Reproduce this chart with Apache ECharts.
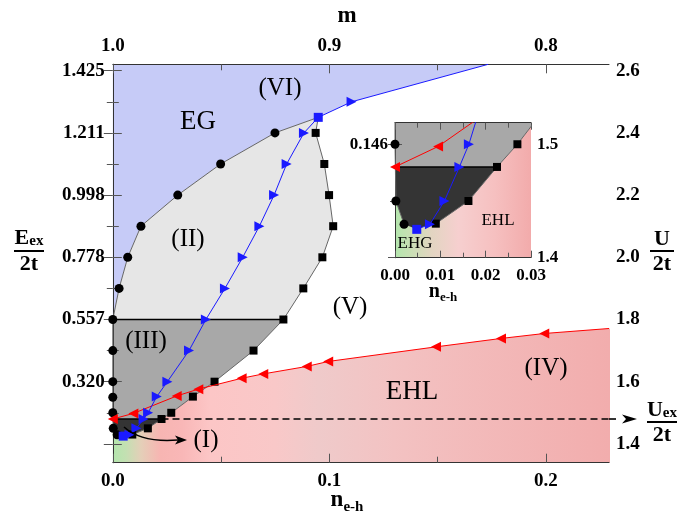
<!DOCTYPE html>
<html><head><meta charset="utf-8">
<script src="https://cdn.jsdelivr.net/npm/echarts@6/dist/echarts.min.js"></script>
<style>html,body{margin:0;padding:0;background:#fff}#c{width:683px;height:523px}</style>
</head><body><div id="c"></div>
<script>
// ---------- data ----------
const X_MAX = 0.2292, Y_MIN = 1.3395, Y_MAX = 2.6206;
const INSET_X_MAX = 0.03, INSET_Y_MIN = 1.4, INSET_Y_MAX = 1.519;
const U_EX = 1.48;

// black circles (n_e-h, U/2t)
const circles = [[0.002,1.4295],[0.0002,1.45],[0,1.5],[0,1.55],[0,1.6],[0,1.7],[0,1.8],
  [0.0029,1.9],[0.0069,2.0],[0.013,2.1],[0.030,2.2],[0.0498,2.3],[0.0749,2.4]];
// black squares
const squares = [[0.009,1.43],[0.0162,1.45],[0.0225,1.48],[0.027,1.5],[0.037,1.552],[0.047,1.6],
  [0.065,1.7],[0.0788,1.8],[0.088,1.9],[0.0968,2.0],[0.1018,2.1],[0.0999,2.2],[0.0977,2.3],[0.0937,2.4]];
// blue squares
const blueSquares = [[0.0048,1.425],[0.0949,2.45]];
// blue path (triangles)
const bluePath = [[0.0048,1.425],[0.0077,1.4295],[0.0109,1.45],[0.0142,1.48],[0.0163,1.50],[0.0203,1.552],
  [0.0252,1.60],[0.0352,1.70],[0.0430,1.80],[0.0518,1.90],[0.0600,2.00],[0.0677,2.10],[0.0745,2.20],
  [0.0803,2.30],[0.0883,2.40],[0.0949,2.45],[0.1103,2.50],[0.1734,2.6206]];
// red path (triangles)
const redPath = [[0,1.48],[0.0095,1.498],[0.0295,1.554],[0.0395,1.576],[0.0595,1.611],[0.0695,1.625],
  [0.0896,1.649],[0.0995,1.665],[0.1493,1.712],[0.1793,1.739],[0.1993,1.755],[0.2292,1.771]];

// ticks
const bottomTicks = [0, 0.1, 0.2];
const bottomMinor = [0.05, 0.15];
const rightTicks = [1.4, 1.6, 1.8, 2.0, 2.2, 2.4, 2.6];
const minorU = [1.5, 1.7, 1.9, 2.1, 2.3, 2.5];
const leftTickU = [1.6, 1.8, 2.0, 2.2, 2.4, 2.6];
const leftTickLabels = ['0.320', '0.557', '0.778', '0.998', '1.211', '1.425'];
const insetXTicks = [0, 0.01, 0.02, 0.03];
const insetXMinor = [0.005, 0.015, 0.025];
const insetRightTicks = [1.4, 1.5];
const insetLeftTickU = [1.5];
const insetLeftLabels = ['0.146'];

// ---------- derived geometry ----------
const same = (a, b) => Math.abs(a[0]-b[0]) < 1e-9 && Math.abs(a[1]-b[1]) < 1e-9;
const atU = (arr, u) => arr.find(p => Math.abs(p[1]-u) < 1e-6);
const sq18 = atU(squares, 1.8), sqEx = atU(squares, U_EX);
const bsTop = blueSquares[1], bsBot = blueSquares[0];
const upperCircles = circles.filter(p => p[1] >= 1.8 - 1e-9);

function segInt(a, b, c, d) {
  const den = (b[0]-a[0])*(d[1]-c[1]) - (b[1]-a[1])*(d[0]-c[0]);
  if (Math.abs(den) < 1e-14) return null;
  const t = ((c[0]-a[0])*(d[1]-c[1]) - (c[1]-a[1])*(d[0]-c[0])) / den;
  const u = ((c[0]-a[0])*(b[1]-a[1]) - (c[1]-a[1])*(b[0]-a[0])) / den;
  if (t < 0 || t > 1 || u < 0 || u > 1) return null;
  return {p: [a[0]+t*(b[0]-a[0]), a[1]+t*(b[1]-a[1])], rj: 0};
}
let cross = null, crossSq = 0, crossRed = 0;
for (let i = 0; i < squares.length-1 && !cross; i++) {
  if (squares[i][1] < U_EX) continue;
  for (let j = 0; j < redPath.length-1; j++) {
    const r = segInt(squares[i], squares[i+1], redPath[j], redPath[j+1]);
    if (r) { cross = r.p; crossSq = i; crossRed = j; break; }
  }
}
const blueTopIdx = bluePath.findIndex(p => same(p, bsTop));
const polyBlue = [[0, 1.8], ...upperCircles, ...bluePath.slice(blueTopIdx), [bluePath[bluePath.length-1][0], Y_MAX+0.05], [0, Y_MAX+0.05]];
const polyII = [...upperCircles, bsTop, ...squares.filter(p => p[1] >= 1.8-1e-9).reverse()];
const polyIII = [[0, 1.8], ...squares.filter(p => p[1] <= 1.8+1e-9 && p[1] >= U_EX-1e-9).reverse(), [0, U_EX]];
const lowCircles = circles.filter(p => p[1] < 1.5 - 1e-9); // bottom of region I
const lowSquares = squares.filter(p => p[1] < U_EX - 1e-9);
const lowBlue = bluePath.filter(p => p[1] < 1.44 && !same(p, bsBot));
const polyI = [[0, U_EX], sqEx, ...lowSquares.slice().reverse(), ...lowBlue.slice().reverse(), bsBot, ...lowCircles, [0, U_EX]];
const polyPink = [[0, Y_MIN-0.05], [0, lowCircles[lowCircles.length-1][1]], ...lowCircles.slice().reverse(), bsBot, ...lowBlue,
  ...squares.slice(0, crossSq+1), cross, ...redPath.slice(crossRed+1), [X_MAX+0.01, redPath[redPath.length-1][1]], [X_MAX+0.01, Y_MIN-0.05]];

// ---------- chart ----------
const FONT = 'Liberation Serif';
const chart = echarts.init(document.getElementById('c'));

const mainStops = [[0,'#b3e6ad'],[0.006,'#c3e0b2'],[0.013,'#e4cfb8'],[0.022,'#f7b5b2'],[0.032,'#f9b7b7'],
  [0.045,'#fcc6c6'],[0.075,'#f9c8c8'],[0.095,'#efcaca'],[0.13,'#f3c2c2'],[0.2292,'#f2adad']];
const insetStops = [[0,'#b3e6ad'],[0.003,'#c6e0b3'],[0.008,'#e2d5c1'],[0.014,'#f6cfcf'],[0.022,'#f6c0c0'],[0.03,'#f2abab']];

function gradFill(stops, xmax) {
  return api => {
    const a = api.coord([0, 1.5]), b = api.coord([xmax, 1.5]);
    return new echarts.graphic.LinearGradient(a[0], 0, b[0], 0,
      stops.map(s => ({offset: s[0]/xmax, color: s[1]})), true);
  };
}
function poly(points, fill, xi, yi) {
  return {type: 'custom', xAxisIndex: xi, yAxisIndex: yi, clip: true, z: 1, silent: true,
    data: [[points[0][0], points[0][1]]],
    renderItem: (params, api) => ({type: 'polygon',
      shape: {points: points.map(p => api.coord(p))},
      style: {fill: typeof fill === 'function' ? fill(api) : fill}})};
}
function lineS(data, color, width, xi, yi, extra) {
  return Object.assign({type: 'line', xAxisIndex: xi, yAxisIndex: yi, data: data, z: 10, silent: true,
    lineStyle: {color: color, width: width}, itemStyle: {color: color}, showSymbol: false, symbol: 'none',
    animation: false}, extra || {});
}
function markerData(path, fn) {
  return path.map((p, i) => Object.assign({value: p}, fn(p, i)));
}

const labelFont = {fontFamily: FONT, fontWeight: 'bold', color: '#000'};
function xAx(grid, pos, ticks, labels, fmt, len, showLine, fs, xmax) {
  return {type: 'value', gridIndex: grid, position: pos, min: 0, max: xmax, z: 5,
    axisLine: {show: showLine, lineStyle: {color: '#333', width: 1}},
    axisTick: {show: true, inside: true, length: len, customValues: ticks, lineStyle: {color: '#555'}},
    axisLabel: labels ? Object.assign({show: true, customValues: labels, formatter: fmt, fontSize: fs, margin: 9}, labelFont) : {show: false},
    splitLine: {show: false}};
}
function yAx(grid, pos, ticks, labels, fmt, len, showLine, fs, ymin, ymax, margin) {
  return {type: 'value', gridIndex: grid, position: pos, min: ymin, max: ymax, z: 5,
    axisLine: {show: showLine, lineStyle: {color: '#333', width: 1}},
    axisTick: {show: true, inside: true, length: len, customValues: ticks, lineStyle: {color: '#555'}},
    axisLabel: labels ? Object.assign({show: true, customValues: labels, formatter: fmt, fontSize: fs, margin: margin}, labelFont) : {show: false},
    splitLine: {show: false}};
}
const leftFmt = v => { const i = leftTickU.findIndex(u => Math.abs(u-v) < 1e-6); return i >= 0 ? leftTickLabels[i] : ''; };
const insetLeftFmt = v => { const i = insetLeftTickU.findIndex(u => Math.abs(u-v) < 1e-6); return i >= 0 ? insetLeftLabels[i] : ''; };

const xAxes = [
  xAx(0, 'bottom', bottomTicks, bottomTicks, v => v.toFixed(1), 9, true, 19, X_MAX),
  xAx(0, 'bottom', bottomMinor, null, null, 6, false, 19, X_MAX),
  xAx(0, 'top', bottomTicks, bottomTicks, v => (1 - v).toFixed(1), 9, true, 19, X_MAX),
  xAx(0, 'top', bottomMinor, null, null, 6, false, 19, X_MAX),
  xAx(1, 'bottom', insetXTicks, insetXTicks, v => v.toFixed(2), 7, true, 17, INSET_X_MAX),
  xAx(1, 'bottom', insetXMinor, null, null, 5, false, 17, INSET_X_MAX),
  xAx(1, 'top', insetXTicks, null, null, 7, true, 17, INSET_X_MAX),
  xAx(1, 'top', insetXMinor, null, null, 5, false, 17, INSET_X_MAX)
];
const yAxes = [
  yAx(0, 'left', rightTicks, leftTickU, leftFmt, 9, true, 19, Y_MIN, Y_MAX, 8),
  yAx(0, 'left', minorU, null, null, 6, false, 19, Y_MIN, Y_MAX, 8),
  yAx(0, 'right', rightTicks, rightTicks, v => v.toFixed(1), 9, true, 19, Y_MIN, Y_MAX, 7),
  yAx(0, 'right', minorU, null, null, 6, false, 19, Y_MIN, Y_MAX, 7),
  yAx(1, 'left', insetLeftTickU, insetLeftTickU, insetLeftFmt, 7, true, 17, INSET_Y_MIN, INSET_Y_MAX, 7),
  yAx(1, 'left', [1.45], null, null, 5, false, 17, INSET_Y_MIN, INSET_Y_MAX, 7),
  yAx(1, 'right', insetRightTicks, insetRightTicks, v => v.toFixed(1), 7, true, 17, INSET_Y_MIN, INSET_Y_MAX, 6),
  yAx(1, 'right', [1.45], null, null, 5, false, 17, INSET_Y_MIN, INSET_Y_MAX, 6)
];

function seriesFor(xi, yi, stops, xmax, isMain) {
  const s = [
    poly(polyPink, gradFill(stops, xmax), xi, yi),
    poly(polyBlue, '#c6cbf7', xi, yi),
    poly(polyII, '#e6e6e6', xi, yi),
    poly(polyIII, '#a8a8a8', xi, yi),
    poly(polyI, '#343434', xi, yi)
  ];
  if (isMain) {
    s.push(lineS([[0, 1.8], sq18], '#000', 1.5, xi, yi));
    s.push(lineS([sqEx, [X_MAX, U_EX]], '#000', 1.6, xi, yi, {lineStyle: {color: '#000', width: 1.6, type: [7, 4]}}));
  }
  s.push(lineS([[0, U_EX], sqEx], '#000', 1.5, xi, yi));
  // circle boundary
  s.push(lineS(markerData([...circles, bsTop], (p, i) => ({symbol: i === circles.length ? 'none' : 'circle'})),
    '#666', 1, xi, yi, {showSymbol: true, symbolSize: 9, itemStyle: {color: '#000'}}));
  // square boundary
  s.push(lineS(markerData([...squares, bsTop], (p, i) => ({symbol: i === squares.length ? 'none' : 'rect'})),
    '#666', 1, xi, yi, {showSymbol: true, symbolSize: 8, itemStyle: {color: '#000'}}));
  // red path
  s.push(lineS(markerData(redPath, (p, i) => ({symbol: i === redPath.length-1 ? 'none' : 'triangle'})),
    '#ff0000', 1, xi, yi, {showSymbol: true, symbolSize: 10, symbolRotate: 90, z: 11}));
  // blue path
  s.push(lineS(markerData(bluePath, (p, i) => ({
      symbol: blueSquares.some(b => same(b, p)) ? 'rect' : (i === bluePath.length-1 ? 'none' : 'triangle'),
      symbolRotate: blueSquares.some(b => same(b, p)) ? 0 : -90,
      symbolSize: blueSquares.some(b => same(b, p)) ? 9 : 10})),
    '#1a1aff', 1, xi, yi, {showSymbol: true, z: 12}));
  return s;
}

chart.setOption({
  animation: false,
  backgroundColor: '#fff',
  grid: [
    {left: 112.8, right: 74, top: 64.3, bottom: 60.3, containLabel: false},
    {left: 395, right: 152, top: 122.7, bottom: 265.3, containLabel: false}
  ],
  xAxis: xAxes,
  yAxis: yAxes,
  series: [...seriesFor(0, 0, mainStops, X_MAX, true), ...seriesFor(4, 4, insetStops, INSET_X_MAX, false)]
});

// ---------- annotations ----------
const px = p => chart.convertToPixel({xAxisIndex: 0, yAxisIndex: 0}, p);
const exY = px([0, U_EX])[1];
const frameR = px([X_MAX, 0])[0];
function txt(t, x, y, size, opts) {
  return Object.assign({type: 'text', x: x, y: y, z: 100, style: Object.assign({text: t, fontFamily: FONT, fontSize: size,
    fill: '#000', align: 'center', verticalAlign: 'middle'}, opts || {})}, {});
}
function frac(cx, numMain, numSub, den, yNum, yLine, yDen, halfW) {
  return [
    {type: 'text', x: cx, y: yNum, z: 100, style: {text: '{a|' + numMain + '}' + (numSub ? '{b|' + numSub + '}' : ''),
      align: 'center', verticalAlign: 'middle', rich: {
        a: {fontFamily: FONT, fontWeight: 'bold', fontSize: 22, fill: '#000'},
        b: {fontFamily: FONT, fontWeight: 'bold', fontSize: 15, fill: '#000', padding: [6, 0, 0, 0]}}}},
    {type: 'line', z: 100, shape: {x1: cx - halfW, y1: yLine, x2: cx + halfW, y2: yLine}, style: {stroke: '#000', lineWidth: 2}},
    {type: 'text', x: cx, y: yDen, z: 100, style: {text: den, fontFamily: FONT, fontWeight: 'bold', fontSize: 22,
      fill: '#000', align: 'center', verticalAlign: 'middle'}}
  ];
}
const g = [
  txt('m', 347, 16, 23, {fontWeight: 'bold'}),
  {type: 'text', x: 347, y: 500, z: 100, style: {text: '{a|n}{b|e-h}', align: 'center', verticalAlign: 'middle',
    rich: {a: {fontFamily: FONT, fontWeight: 'bold', fontSize: 23, fill: '#000'},
           b: {fontFamily: FONT, fontWeight: 'bold', fontSize: 15, fill: '#000', padding: [14, 0, 0, 0]}}}},
  {type: 'text', x: 443, y: 292, z: 100, style: {text: '{a|n}{b|e-h}', align: 'center', verticalAlign: 'middle',
    rich: {a: {fontFamily: FONT, fontWeight: 'bold', fontSize: 20, fill: '#000'},
           b: {fontFamily: FONT, fontWeight: 'bold', fontSize: 13, fill: '#000', padding: [12, 0, 0, 0]}}}},
  ...frac(29, 'E', 'ex', '2t', 238, 251, 264, 15),
  ...frac(662, 'U', '', '2t', 239, 251, 264, 12),
  ...frac(662, 'U', 'ex', '2t', 410, 422, 435, 15),
  txt('(VI)', 280, 88, 25), txt('EG', 198, 122, 27), txt('(II)', 188, 239, 25), txt('(III)', 146, 341, 25),
  txt('(V)', 350, 307, 25), txt('EHL', 412, 392, 27), txt('(IV)', 546, 368, 25), txt('(I)', 206, 440, 25),
  txt('EHL', 498, 221, 17), txt('EHG', 415, 244, 17),
  // dashed extension + arrowhead to U_ex label
  {type: 'line', z: 100, shape: {x1: frameR, y1: exY, x2: frameR + 11, y2: exY}, style: {stroke: '#000', lineWidth: 1.6, lineDash: [7, 4]}},
  {type: 'polygon', z: 100, shape: {points: [[frameR + 13, exY - 4.5], [frameR + 28, exY], [frameR + 13, exY + 4.5], [frameR + 17, exY]]}, style: {fill: '#000'}},
  // (I) curved arrow
  {type: 'bezierCurve', z: 100, shape: {x1: 124, y1: 427, cpx1: 142, cpy1: 443, x2: 178, y2: 440}, style: {stroke: '#000', lineWidth: 1.6, fill: null}},
  {type: 'polygon', z: 100, shape: {points: [[175, 435.5], [187, 440], [175, 444.5], [178, 440]]}, style: {fill: '#000'}}
];
chart.setOption({graphic: g});
</script></body></html>
